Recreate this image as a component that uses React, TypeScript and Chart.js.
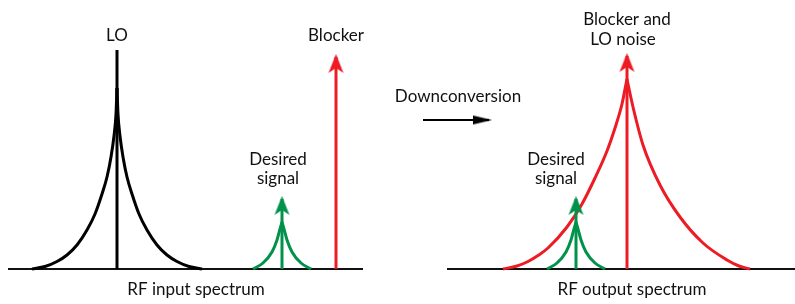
import React, { useEffect, useRef } from "react";
import { Chart, registerables } from "chart.js";

Chart.register(...registerables);

// ---- Data (x = frequency position, y = amplitude above the spectrum axis) ----
const inputAxisX = [8, 363];
const outputAxisX = [447, 795];

const loCarrierX = 117;
const loCarrierPeak = 219;
const blockerInX = 336;
const blockerInPeak = 212;
const desiredInX = 282;
const desiredOutX = 576;
const desiredPeak = 70;
const blockerOutX = 627;
const blockerOutPeak = 213;

// LO phase noise skirt (input spectrum)
const loNoiseLeftX = [32, 45, 57, 67, 77, 87, 95, 102, 107, 111, 114, 116, 117];
const loNoiseLeftY = [0, 2.5, 7.5, 14, 24, 39, 55, 75, 92, 112, 133, 155, 181];
const loNoiseRightX = [117, 118, 120, 123, 127, 132, 139, 147, 157, 167, 177, 189, 202];
const loNoiseRightY = [181, 155, 133, 112, 92, 75, 55, 39, 24, 14, 7.5, 2.5, 0];

// Desired signal skirts
const desiredInLeftX = [253, 263, 272, 277, 280, 282];
const desiredInRightX = [282, 284, 287, 292, 301, 311];
const desiredOutLeftX = [547, 557, 566, 571, 574, 576];
const desiredOutRightX = [576, 578, 581, 586, 595, 605];
const desiredLeftY = [0, 6, 17, 29, 40, 47];
const desiredRightY = [47, 40, 29, 17, 6, 0];

// Blocker mixed with LO noise (output spectrum)
const blockerNoiseLeftX = [503, 517, 528, 538, 548, 567, 582, 595, 607, 615, 622, 626, 627];
const blockerNoiseLeftY = [0, 3, 7.5, 13.5, 21, 42, 65, 91, 118, 141, 165, 185, 190];
const blockerNoiseRightX = [627, 628, 633, 643, 660, 680, 703, 727, 739, 750];
const blockerNoiseRightY = [190, 185, 162, 124, 84, 52, 26, 9, 3, 0];

// Downconversion arrow
const downArrowX = [423, 489];
const downArrowY = 149;

// Text labels
const labelTexts = [
  "LO",
  "Blocker",
  "Desired",
  "signal",
  "RF input spectrum",
  "Downconversion",
  "Blocker and",
  "LO noise",
  "Desired",
  "signal",
  "RF output spectrum",
];
const labelX = [117, 336, 278, 278, 196, 458, 627, 623, 556, 556, 632];
const labelY = [228, 228, 104, 85, -26, 167, 244, 224, 104, 85, -26];

const RED = "#ED1C24";
const GREEN = "#00924A";
const BLACK = "#000000";
const FONT = "Lato, 'Noto Sans', sans-serif";

function pts(xs: number[], ys: number[]) {
  return xs.map((x, i) => ({ x, y: ys[i] }));
}

function makeHead(color: string, width: number, length: number, notch: number, overshoot: number) {
  const c = document.createElement("canvas");
  c.width = Math.ceil(width) + 2;
  c.height = length * 2;
  const g = c.getContext("2d")!;
  const cx = c.width / 2;
  const tip = length - overshoot;
  g.fillStyle = color;
  g.beginPath();
  g.moveTo(cx, tip);
  g.lineTo(cx + width / 2, tip + length);
  g.lineTo(cx, tip + length - notch);
  g.lineTo(cx - width / 2, tip + length);
  g.closePath();
  g.fill();
  return c;
}

export default function App() {
  const ref = useRef<HTMLCanvasElement | null>(null);

  useEffect(() => {
    if (!ref.current) return;
    const redHead = makeHead(RED, 15, 19, 5, 3);
    const greenHead = makeHead(GREEN, 15, 19, 5, 3);
    const blackHead = makeHead(BLACK, 9, 19, 0, 3);

    const curve = (data: any[], color: string) => ({
      data,
      showLine: true,
      borderColor: color,
      borderWidth: 3,
      pointRadius: 0,
      cubicInterpolationMode: "monotone" as const,
      order: 5,
    });
    const arrow = (x: number, peak: number, color: string, head: HTMLCanvasElement) => ({
      data: [
        { x, y: 0 },
        { x, y: peak },
      ],
      showLine: true,
      borderColor: color,
      backgroundColor: color,
      borderWidth: 3,
      borderCapStyle: "butt" as const,
      pointRadius: [0, 6],
      pointStyle: ["circle", head] as any,
      order: 1,
    });
    const axisLine = (xs: number[]) => ({
      data: [
        { x: xs[0], y: 0 },
        { x: xs[1], y: 0 },
      ],
      showLine: true,
      borderColor: "#111",
      borderWidth: 2,
      pointRadius: 0,
      order: 10,
    });

    const labelPlugin = {
      id: "labels",
      afterDatasetsDraw(chart: any) {
        const { ctx, scales } = chart;
        ctx.save();
        ctx.fillStyle = "#111";
        ctx.font = `17px ${FONT}`;
        ctx.textAlign = "center";
        ctx.textBaseline = "alphabetic";
        labelTexts.forEach((t, i) => {
          ctx.fillText(t, scales.x.getPixelForValue(labelX[i]), scales.y.getPixelForValue(labelY[i]));
        });
        ctx.restore();
      },
    };

    const chart = new Chart(ref.current, {
      type: "scatter",
      data: {
        datasets: [
          axisLine(inputAxisX),
          axisLine(outputAxisX),
          curve(pts(loNoiseLeftX, loNoiseLeftY), BLACK),
          curve(pts(loNoiseRightX, loNoiseRightY), BLACK),
          curve(pts(desiredInLeftX, desiredLeftY), GREEN),
          curve(pts(desiredInRightX, desiredRightY), GREEN),
          curve(pts(blockerNoiseLeftX, blockerNoiseLeftY), RED),
          curve(pts(blockerNoiseRightX, blockerNoiseRightY), RED),
          curve(pts(desiredOutLeftX, desiredLeftY), GREEN),
          curve(pts(desiredOutRightX, desiredRightY), GREEN),
          {
            data: [
              { x: loCarrierX, y: 0 },
              { x: loCarrierX, y: loCarrierPeak },
            ],
            showLine: true,
            borderColor: BLACK,
            borderWidth: 3,
            borderCapStyle: "butt",
            pointRadius: 0,
            order: 1,
          },
          arrow(blockerInX, blockerInPeak, RED, redHead),
          arrow(desiredInX, desiredPeak, GREEN, greenHead),
          arrow(blockerOutX, blockerOutPeak, RED, redHead),
          arrow(desiredOutX, desiredPeak, GREEN, greenHead),
          {
            data: [
              { x: downArrowX[0], y: downArrowY },
              { x: downArrowX[1], y: downArrowY },
            ],
            showLine: true,
            borderColor: BLACK,
            backgroundColor: BLACK,
            borderWidth: 2,
            borderCapStyle: "butt",
            pointRadius: [0, 6],
            pointStyle: ["circle", blackHead] as any,
            pointRotation: 90,
            order: 1,
          },
        ] as any,
      },
      options: {
        responsive: false,
        animation: false,
        devicePixelRatio: 1,
        layout: { padding: 0, autoPadding: false },
        events: [],
        scales: {
          x: { type: "linear", min: 0, max: 795, display: false },
          y: { type: "linear", min: -35, max: 269, display: false },
        },
        plugins: {
          legend: { display: false },
          tooltip: { enabled: false },
        },
      },
      plugins: [labelPlugin],
    });
    return () => chart.destroy();
  }, []);

  return (
    <div style={{ position: "absolute", left: 0, top: 0, width: 795, height: 304, background: "#fff" }}>
      <canvas ref={ref} width={795} height={304} />
    </div>
  );
}
